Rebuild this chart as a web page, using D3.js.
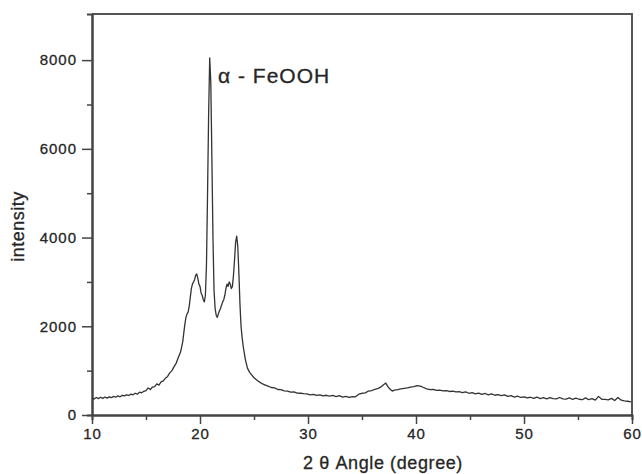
<!DOCTYPE html>
<html>
<head>
<meta charset="utf-8">
<script src="https://cdn.jsdelivr.net/npm/d3@7"></script>
<style>
  body { margin: 0; background: #fff; }
  svg text { font-family: "Liberation Sans", Arial, sans-serif; fill: #262626; }
</style>
</head>
<body>
<svg id="chart" width="642" height="474"></svg>
<script>
// 2theta values (degree)
const angle = [
  10.0, 10.2, 10.4, 10.6, 10.8, 11.0, 11.2, 11.4, 11.6, 11.8,
  12.0, 12.2, 12.4, 12.6, 12.8, 13.0, 13.2, 13.4, 13.6, 13.8,
  14.0, 14.2, 14.4, 14.6, 14.8, 15.0, 15.2, 15.4, 15.6, 15.8,
  16.0, 16.2, 16.4, 16.6, 16.8, 17.0, 17.2, 17.4, 17.6, 17.8,
  18.0, 18.2, 18.4, 18.5, 18.6, 18.7, 18.8, 18.9, 19.0, 19.1,
  19.2, 19.3, 19.4, 19.5, 19.6, 19.7, 19.8, 19.9, 20.0, 20.1,
  20.2, 20.3, 20.4, 20.5, 20.6, 20.7, 20.8, 20.9, 21.0, 21.1,
  21.2, 21.3, 21.4, 21.5, 21.6, 21.7, 21.8, 21.9, 22.0, 22.1,
  22.2, 22.3, 22.4, 22.5, 22.6, 22.7, 22.8, 22.9, 23.0, 23.1,
  23.2, 23.3, 23.4, 23.5, 23.6, 23.7, 23.8, 23.9, 24.0, 24.2,
  24.4, 24.6, 24.8, 25.0, 25.2, 25.4, 25.6, 25.8, 26.0, 26.3,
  26.6, 26.9, 27.2, 27.5, 27.8, 28.1, 28.4, 28.7, 29.0, 29.3,
  29.6, 29.9, 30.2, 30.5, 30.8, 31.1, 31.4, 31.7, 32.0, 32.3,
  32.6, 32.9, 33.2, 33.5, 33.8, 34.1, 34.4, 34.7, 35.0, 35.3,
  35.6, 35.9, 36.2, 36.5, 36.8, 37.0, 37.2, 37.4, 37.6, 37.8,
  38.0, 38.3, 38.6, 38.9, 39.2, 39.5, 39.8, 40.1, 40.4, 40.7,
  41.0, 41.3, 41.6, 41.9, 42.2, 42.5, 42.8, 43.1, 43.4, 43.7,
  44.0, 44.3, 44.6, 44.9, 45.2, 45.5, 45.8, 46.1, 46.4, 46.7,
  47.0, 47.3, 47.6, 47.9, 48.2, 48.5, 48.8, 49.1, 49.4, 49.7,
  50.0, 50.3, 50.6, 50.9, 51.2, 51.5, 51.8, 52.1, 52.4, 52.7,
  53.0, 53.3, 53.6, 53.9, 54.2, 54.5, 54.8, 55.1, 55.4, 55.7,
  56.0, 56.3, 56.6, 56.9, 57.2, 57.5, 57.8, 58.1, 58.4, 58.7,
  59.0, 59.3, 59.6, 59.9
]

// intensity (counts) for each angle above
const intensity = [
  380, 360, 395, 370, 400, 375, 405, 380, 410, 390,
  420, 400, 430, 410, 445, 430, 455, 440, 470, 455,
  490, 470, 515, 500, 535, 550, 610, 575, 630, 640,
  700, 675, 745, 770, 830, 870, 950, 1000, 1090, 1170,
  1300, 1420, 1650, 1850, 2050, 2200, 2280, 2320, 2450, 2650,
  2850, 2950, 3000, 3050, 3150, 3180, 3080, 2950, 2900, 2750,
  2700, 2600, 2550, 2700, 3400, 5000, 6800, 8050, 7500, 5800,
  4000, 2800, 2400, 2250, 2200, 2280, 2350, 2400, 2480, 2550,
  2600, 2700, 2850, 2950, 2900, 3000, 2950, 2850, 2900, 3150,
  3500, 3900, 4030, 3800, 3200, 2500, 2000, 1750, 1550, 1250,
  1050, 960, 900, 840, 800, 760, 730, 700, 680, 650,
  620, 610, 575, 570, 545, 540, 515, 520, 495, 490,
  480, 475, 455, 465, 440, 455, 430, 445, 425, 440,
  415, 435, 405, 420, 395, 415, 410, 470, 490, 500,
  540, 550, 580, 600, 640, 680, 720, 640, 580, 540,
  560, 570, 590, 600, 610, 630, 640, 660, 650, 620,
  590, 570, 580, 555, 560, 545, 550, 530, 540, 520,
  525, 505, 520, 490, 505, 475, 495, 465, 485, 455,
  475, 445, 460, 435, 455, 420, 435, 405, 425, 395,
  410, 385, 400, 375, 405, 370, 390, 365, 390, 370,
  365, 395, 365, 360, 385, 350, 380, 355, 345, 385,
  345, 370, 335, 420, 355, 350, 340, 375, 325, 395,
  335, 320, 310, 295
]

const xTicks = [10, 20, 30, 40, 50, 60]
const xMinorTicks = [15, 25, 35, 45, 55]
const yTicks = [0, 2000, 4000, 6000, 8000]
const yMinorTicks = [1000, 3000, 5000, 7000]

const svg = d3.select('#chart')
const plotLeft = 92
const plotRight = 632
const plotTop = 14
const plotBottom = 415

const xScale = d3.scaleLinear().domain([10, 60]).range([plotLeft, plotRight])
const yScale = d3.scaleLinear().domain([0, 9040]).range([plotBottom, plotTop])

// frame (top and right sides)
svg.append('path')
  .attr('d', `M${plotLeft},${plotTop}H${plotRight}V${plotBottom}`)
  .attr('fill', 'none')
  .attr('stroke', '#555')
  .attr('stroke-width', 2)

// minor ticks first, no labels
svg.append('g')
  .attr('transform', `translate(0,${plotBottom})`)
  .call(d3.axisBottom(xScale).tickValues(xMinorTicks).tickSize(5).tickFormat(''))
svg.append('g')
  .attr('transform', `translate(${plotLeft},0)`)
  .call(d3.axisLeft(yScale).tickValues(yMinorTicks).tickSize(5).tickFormat(''))

svg.append('g')
  .attr('transform', `translate(0,${plotBottom})`)
  .call(d3.axisBottom(xScale).tickValues(xTicks).tickSize(9).tickSizeOuter(0).tickPadding(4).tickFormat(d3.format('d')))
svg.append('g')
  .attr('transform', `translate(${plotLeft},0)`)
  .call(d3.axisLeft(yScale).tickValues(yTicks).tickSize(10).tickSizeOuter(0).tickPadding(5).tickFormat(d3.format('d')))

svg.selectAll('.domain').attr('stroke', '#444').attr('stroke-width', 2)
svg.selectAll('.tick line').attr('stroke', '#444').attr('stroke-width', 1.5)
svg.selectAll('.tick text')
  .attr('font-family', '"Liberation Sans", Arial, sans-serif')
  .attr('font-size', '15px')
  .attr('letter-spacing', '1px')
  .attr('fill', '#262626')
  .attr('stroke', '#262626')
  .attr('stroke-width', 0.3)

// the pattern itself
const line = d3.line()
  .x(d => xScale(d[0]))
  .y(d => yScale(d[1]))

svg.append('path')
  .datum(angle.map((a, i) => [a, intensity[i]]))
  .attr('fill', 'none')
  .attr('stroke', '#333')
  .attr('stroke-width', 1.3)
  .attr('stroke-linejoin', 'round')
  .attr('d', line)

// axis titles
svg.append('text')
  .attr('transform', `translate(24,${(plotTop + plotBottom) / 2 + 12}) rotate(-90)`)
  .attr('text-anchor', 'middle')
  .attr('font-size', '18px')
  .attr('letter-spacing', '0.5px')
  .attr('stroke', '#262626')
  .attr('stroke-width', 0.3)
  .text('intensity')

svg.append('text')
  .attr('x', 383)
  .attr('y', 469)
  .attr('text-anchor', 'middle')
  .attr('font-size', '18px')
  .attr('letter-spacing', '0.6px')
  .attr('stroke', '#262626')
  .attr('stroke-width', 0.3)
  .text('2 θ Angle (degree)')

// peak label
svg.append('text')
  .attr('x', 218)
  .attr('y', 83)
  .attr('font-size', '21px')
  .attr('letter-spacing', '1px')
  .attr('stroke', '#262626')
  .attr('stroke-width', 0.3)
  .text('α - FeOOH')
</script>
</body>
</html>
